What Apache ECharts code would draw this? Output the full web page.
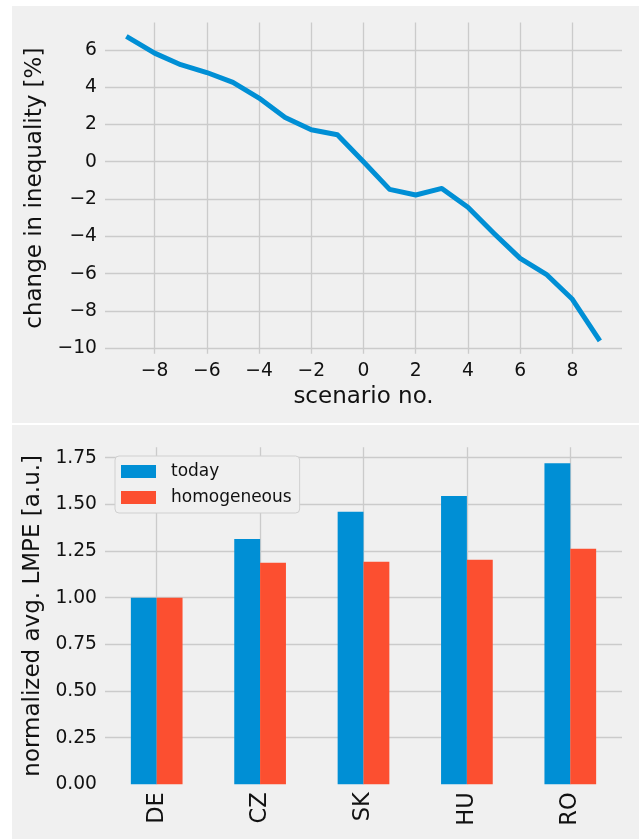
<!DOCTYPE html>
<html>
<head>
<meta charset="utf-8">
<script src="https://cdn.jsdelivr.net/npm/echarts@6/dist/echarts.min.js"></script>
<style>
html,body{margin:0;padding:0;background:#ffffff;}
#chart{width:639px;height:839px;}
</style>
</head>
<body>
<div id="chart"></div>
<script>
// ---- data ----
var scenarios = [-9, -8, -7, -6, -5, -4, -3, -2, -1, 0, 1, 2, 3, 4, 5, 6, 7, 8, 9];
var inequality = [6.65, 5.82, 5.2, 4.78, 4.25, 3.41, 2.37, 1.71, 1.45, 0.0, -1.48, -1.78, -1.43, -2.44, -3.84, -5.18, -6.03, -7.37, -9.48];
var countries = ['DE', 'CZ', 'SK', 'HU', 'RO'];
var today = [1.0, 1.315, 1.46, 1.545, 1.72];
var homogeneous = [1.0, 1.187, 1.193, 1.203, 1.262];
var seriesNames = ['today', 'homogeneous'];

// ---- styling ----
var FONT = 'DejaVu Sans';
var TXT = '#111111';
var GRIDC = '#cbcbcb';
var BLUE = '#008fd5';
var RED = '#fc4f30';

function minusFmt(v) { return String(v).replace('-', '\u2212'); }

var linePoints = scenarios.map(function (s, i) { return [s, inequality[i]]; });

var chart = echarts.init(document.getElementById('chart'), null, {renderer: 'canvas'});

var option = {
  backgroundColor: '#ffffff',
  animation: false,
  textStyle: {fontFamily: FONT, color: TXT},
  graphic: [
    {type: 'rect', z: -100, silent: true, shape: {x: 12, y: 6, width: 627, height: 417}, style: {fill: '#f0f0f0'}},
    {type: 'rect', z: -100, silent: true, shape: {x: 12, y: 425, width: 627, height: 414}, style: {fill: '#f0f0f0'}}
  ],
  grid: [
    {left: 105, top: 22.5, width: 517, height: 331.3, containLabel: false},
    {left: 105, top: 447.3, width: 517, height: 337, containLabel: false}
  ],
  legend: {
    left: 115, top: 456,
    orient: 'vertical',
    data: seriesNames,
    icon: 'rect',
    itemWidth: 35, itemHeight: 13, itemGap: 9,
    padding: [7, 8, 7, 6],
    backgroundColor: '#f0f0f0',
    borderColor: '#d0d0d0', borderWidth: 1, borderRadius: 4,
    textStyle: {fontFamily: FONT, fontSize: 17, color: TXT, lineHeight: 13, padding: [0, 0, 0, 10]}
  },
  xAxis: [
    {
      type: 'value', gridIndex: 0, min: -9.9, max: 9.9, minInterval: 2, maxInterval: 2,
      axisLine: {show: false}, axisTick: {show: false},
      axisLabel: {fontFamily: FONT, fontSize: 18.7, color: TXT, margin: 8, showMinLabel: false, showMaxLabel: false, formatter: minusFmt},
      splitLine: {show: true, showMinLine: false, showMaxLine: false, lineStyle: {color: GRIDC, width: 1.3}},
      name: 'scenario no.', nameLocation: 'middle', nameGap: 32,
      nameTextStyle: {fontFamily: FONT, fontSize: 23, color: TXT}
    },
    {
      type: 'category', gridIndex: 1, data: countries, boundaryGap: true,
      axisLine: {show: false}, axisTick: {show: false},
      axisLabel: {fontFamily: FONT, fontSize: 22.5, color: TXT, rotate: 90, margin: 8, interval: 0},
      splitLine: {show: false}
    },
    {
      type: 'value', gridIndex: 1, min: -0.5, max: 4.5, minInterval: 1, maxInterval: 1,
      axisLine: {show: false}, axisTick: {show: false}, axisLabel: {show: false},
      splitLine: {show: true, showMinLine: false, showMaxLine: false, lineStyle: {color: GRIDC, width: 1.3}}
    }
  ],
  yAxis: [
    {
      type: 'value', gridIndex: 0, min: -10.29, max: 7.46, minInterval: 2, maxInterval: 2,
      axisLine: {show: false}, axisTick: {show: false},
      axisLabel: {fontFamily: FONT, fontSize: 18.7, color: TXT, margin: 8, showMinLabel: false, showMaxLabel: false, formatter: minusFmt},
      splitLine: {show: true, showMinLine: false, showMaxLine: false, lineStyle: {color: GRIDC, width: 1.3}},
      name: 'change in inequality [%]', nameLocation: 'middle', nameGap: 50,
      nameTextStyle: {fontFamily: FONT, fontSize: 23, color: TXT}
    },
    {
      type: 'value', gridIndex: 1, min: 0, max: 1.806, minInterval: 0.25, maxInterval: 0.25,
      axisLine: {show: false}, axisTick: {show: false},
      axisLabel: {fontFamily: FONT, fontSize: 18.7, color: TXT, margin: 8, showMaxLabel: false, formatter: function (v) { return v.toFixed(2); }},
      splitLine: {show: true, showMinLine: false, showMaxLine: false, lineStyle: {color: GRIDC, width: 1.3}},
      name: 'normalized avg. LMPE [a.u.]', nameLocation: 'middle', nameGap: 55,
      nameTextStyle: {fontFamily: FONT, fontSize: 23, color: TXT}
    }
  ],
  series: [
    {
      type: 'line', xAxisIndex: 0, yAxisIndex: 0, data: linePoints,
      showSymbol: false, symbol: 'none',
      lineStyle: {color: BLUE, width: 5, cap: 'square', join: 'round'}
    },
    {
      name: seriesNames[0], type: 'bar', xAxisIndex: 1, yAxisIndex: 1, data: today,
      barWidth: '25%', barGap: '0%', itemStyle: {color: BLUE}
    },
    {
      name: seriesNames[1], type: 'bar', xAxisIndex: 1, yAxisIndex: 1, data: homogeneous,
      barWidth: '25%', barGap: '0%', itemStyle: {color: RED}
    }
  ]
};
chart.setOption(option);
</script>
</body>
</html>
